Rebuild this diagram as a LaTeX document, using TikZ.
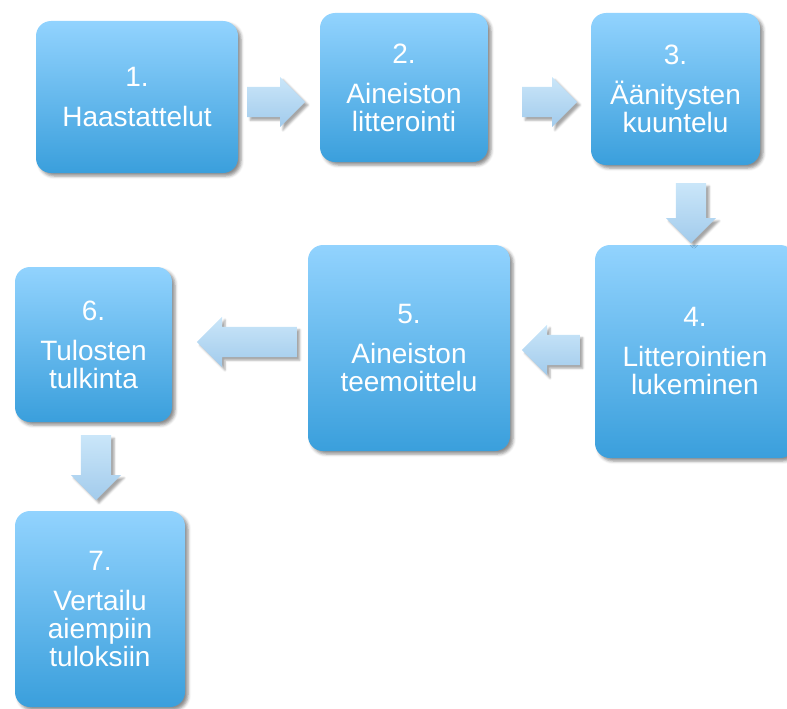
\documentclass[tikz,border=0pt]{standalone}
\usepackage{fontspec}
\setmainfont{Liberation Sans}
\usepackage{tikz}
\usetikzlibrary{shapes, arrows, shadows.blur}
\definecolor{boxTop}{HTML}{92D3FE}
\definecolor{boxBottom}{HTML}{3A9FDC}
\definecolor{arrowTop}{HTML}{CAE6F9}
\definecolor{arrowBottom}{HTML}{A2CBEC}
\tikzstyle{block} = [rectangle, rounded corners=15pt, top color=boxTop, bottom color=boxBottom,
text=white, align=center, inner sep=0pt, font=\fontsize{28}{28}\selectfont,
blur shadow={shadow xshift=3pt, shadow yshift=-3pt, shadow blur radius=3pt, shadow opacity=45}]
\tikzstyle{bigArrow} = [single arrow, top color=arrowTop, bottom color=arrowBottom, anchor=tail,
single arrow head extend=10pt, single arrow tip angle=90,
blur shadow={shadow xshift=3pt, shadow yshift=-3pt, shadow blur radius=2pt, shadow opacity=35}]
\tikzstyle{toRight} = [bigArrow, inner xsep=0pt, inner ysep=15pt]
\tikzstyle{toLeft} = [bigArrow, inner xsep=0pt, inner ysep=15pt, shape border rotate=180]
\tikzstyle{toDown} = [bigArrow, inner xsep=15pt, inner ysep=0pt, shape border rotate=270]

\begin{document}
\begin{tikzpicture}[x=1pt, y=-1pt]
    \useasboundingbox (0,0) rectangle (787,709);
    % the seven steps first
    \node [block, minimum width=202pt, minimum height=152pt] (haastattelut) at (137,97) {1.\\[12pt]Haastattelut};
    \node [block, minimum width=168pt, minimum height=149pt] (litterointi) at (404,87.5) {2.\\[12pt]Aineiston\\litterointi};
    \node [block, minimum width=169pt, minimum height=152pt] (kuuntelu) at (675.5,89) {3.\\[12pt]\"A\"anitysten\\kuuntelu};
    \node [block, minimum width=200pt, minimum height=213pt] (lukeminen) at (695,351.5) {4.\\[12pt]Litterointien\\lukeminen};
    \node [block, minimum width=202pt, minimum height=206pt] (teemoittelu) at (409,348) {5.\\[12pt]Aineiston\\teemoittelu};
    \node [block, minimum width=157pt, minimum height=155pt] (tulkinta) at (93.5,344.5) {6.\\[12pt]Tulosten\\tulkinta};
    \node [block, minimum width=170pt, minimum height=196pt] (vertailu) at (100,609) {7.\\[12pt]Vertailu\\aiempiin\\tuloksiin};

    % then the fat arrows between them, placed by their tails
    \node [toRight, minimum height=58pt] (arrowA) at (247,102) {};
    \node [toRight, minimum height=55pt] (arrowB) at (522,102) {};
    \node [toDown, minimum height=60pt] (arrowC) at (691,183) {};
    \node [toLeft, minimum height=58pt] (arrowD) at (580,350) {};
    \node [toLeft, minimum height=100pt] (arrowE) at (297,342) {};
    \node [toDown, minimum height=65pt] (arrowF) at (96,435) {};
\end{tikzpicture}
\end{document}
